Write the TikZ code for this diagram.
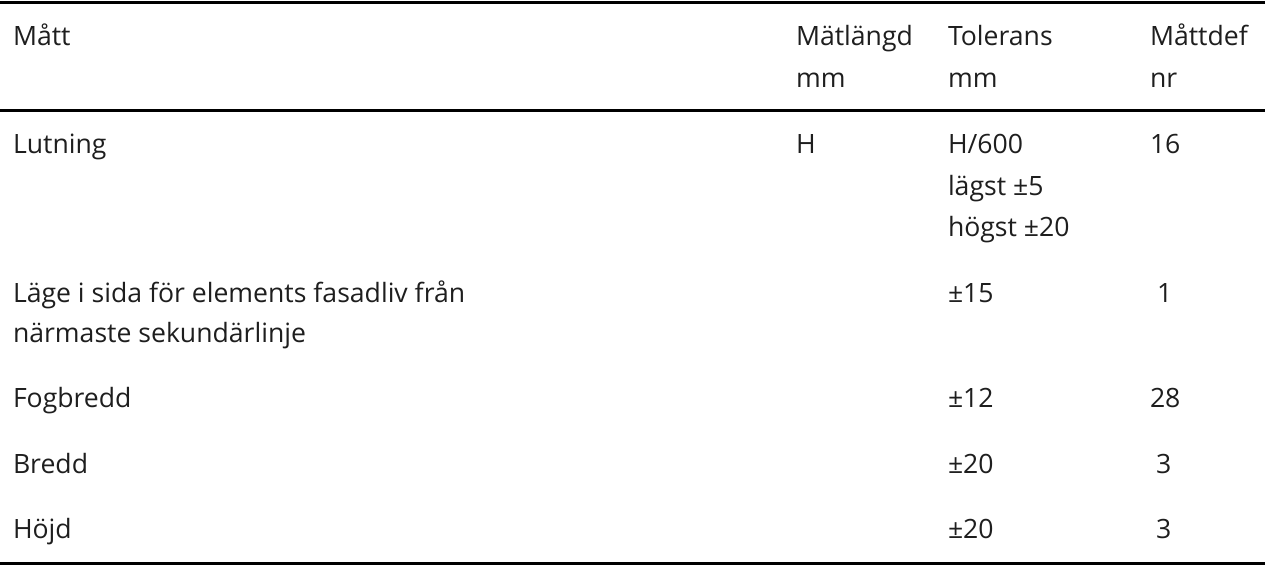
\documentclass[tikz,border=0pt]{standalone}
\usepackage{fontspec}
\setmainfont{Open Sans}
\definecolor{txt}{HTML}{1E1E1E}
\begin{document}
\begin{tikzpicture}[x=1pt,y=-1pt,
  cell/.style={anchor=base west,inner sep=0pt,outer sep=0pt,text=txt,font=\fontsize{26.6}{32}\selectfont},
  rule/.style={line width=3pt,draw=black}]
\useasboundingbox (0,0) rectangle (1265,565);
\coordinate (t0) at (0,2);   \coordinate (t1) at (1265,2);
\coordinate (h0) at (0,110); \coordinate (h1) at (1265,110);
\coordinate (b0) at (0,563); \coordinate (b1) at (1265,563);
\draw[rule] (t0) -- (t1);
\draw[rule] (h0) -- (h1);
\draw[rule] (b0) -- (b1);
% header
\node[cell] (hA) at (13,45) {Mått};
\node[cell] (hB1) at (796,45) {Mätlängd};
\node[cell] (hB2) at (796,87) {mm};
\node[cell] (hC1) at (948,45) {Tolerans};
\node[cell] (hC2) at (948,87) {mm};
\node[cell] (hD1) at (1150,45) {Måttdef};
\node[cell] (hD2) at (1150,87) {nr};
% row 1
\node[cell] (r1A) at (13,153) {Lutning};
\node[cell] (r1B) at (796,153) {H};
\node[cell] (r1C1) at (948,153) {H/600};
\node[cell] (r1C2) at (948,195) {lägst ±5};
\node[cell] (r1C3) at (948,236) {högst ±20};
\node[cell] (r1D) at (1150,153) {16};
% row 2
\node[cell] (r2A1) at (13,302) {Läge i sida för elements fasadliv från};
\node[cell] (r2A2) at (13,342) {närmaste sekundärlinje};
\node[cell] (r2C) at (948,302) {±15};
\node[cell] (r2D) at (1157,302) {1};
% row 3
\node[cell] (r3A) at (13,407) {Fogbredd};
\node[cell] (r3C) at (948,407) {±12};
\node[cell] (r3D) at (1150,407) {28};
% row 4
\node[cell] (r4A) at (13,473) {Bredd};
\node[cell] (r4C) at (948,473) {±20};
\node[cell] (r4D) at (1156,473) {3};
% row 5
\node[cell] (r5A) at (13,538) {Höjd};
\node[cell] (r5C) at (948,538) {±20};
\node[cell] (r5D) at (1156,538) {3};
\end{tikzpicture}
\end{document}
